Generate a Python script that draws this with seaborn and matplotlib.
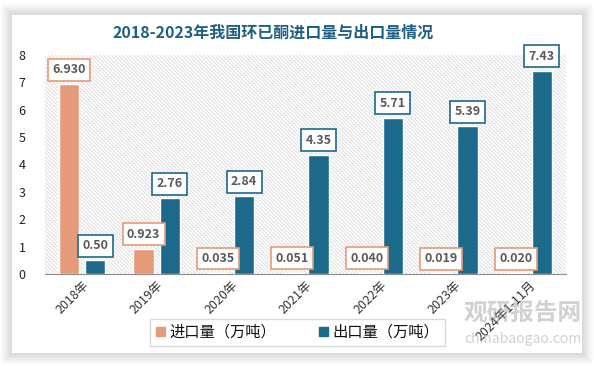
import pandas as pd
import matplotlib
matplotlib.use("Agg")
import matplotlib.pyplot as plt
import matplotlib.patches as mpatches
import seaborn as sns

years = ["2018年", "2019年", "2020年", "2021年", "2022年", "2023年", "2024年1-11月"]
import_vals = [6.930, 0.923, 0.035, 0.051, 0.040, 0.019, 0.020]
export_vals = [0.50, 2.76, 2.84, 4.35, 5.71, 5.39, 7.43]
import_text = ["6.930", "0.923", "0.035", "0.051", "0.040", "0.019", "0.020"]
export_text = ["0.50", "2.76", "2.84", "4.35", "5.71", "5.39", "7.43"]
series = ["进口量（万吨）", "出口量（万吨）"]
yticks = [0, 1, 2, 3, 4, 5, 6, 7, 8]

orange = "#E59B7A"
blue = "#1B6A8C"

df = pd.DataFrame({
    "year": years * 2,
    "value": import_vals + export_vals,
    "series": [series[0]] * len(years) + [series[1]] * len(years),
})

sns.set_style("white")
plt.rcParams["font.family"] = ["Noto Sans CJK SC", "DejaVu Sans"]
plt.rcParams["hatch.linewidth"] = 0.5

fig = plt.figure(figsize=(5.94, 3.66), dpi=100, facecolor="white")

# card with soft shadow
for i in range(6):
    d = (6 - i) * 0.003
    fig.patches.append(mpatches.Rectangle((0.02 - d, 0.035 - d * 1.6), 0.96 + 2 * d, 0.925 + 3.2 * d,
                                          transform=fig.transFigure, facecolor="#000000",
                                          alpha=0.025, edgecolor="none", zorder=-5))
fig.patches.append(mpatches.Rectangle((0.02, 0.035), 0.96, 0.925, transform=fig.transFigure,
                                      facecolor="white", edgecolor="none", zorder=-4))

ax = fig.add_axes([0.0758, 0.2514, 0.877, 0.5983])
ax.set_facecolor("none")
ax.add_patch(mpatches.Rectangle((0, 0), 1, 1, transform=ax.transAxes, facecolor="white",
                                edgecolor="#d2d2d2", hatch="\\" * 9, linewidth=0, zorder=0))

sns.barplot(df, x="year", y="value", hue="series", palette=[orange, blue], saturation=1,
            width=0.7, gap=0.22, ax=ax, legend=True, zorder=3)

for bars, texts, col in zip(ax.containers, [import_text, export_text], [orange, blue]):
    for bar, t in zip(bars, texts):
        ax.annotate(t, (bar.get_x() + bar.get_width() / 2, bar.get_height()),
                    xytext=(0, 10.5), textcoords="offset points", ha="center", va="center",
                    fontsize=9, fontweight="bold", color="#595959", zorder=5,
                    bbox=dict(boxstyle="square,pad=0.35", facecolor="white", edgecolor=col, linewidth=1.2))

ax.set_xlim(-0.5, 6.5)
ax.set_ylim(0, 8)
ax.set_yticks(yticks)
ax.set_xlabel("")
ax.set_ylabel("")
for s in ["top", "right", "left"]:
    ax.spines[s].set_visible(False)
ax.spines["bottom"].set_color("#8c8c8c")
ax.tick_params(axis="y", length=0, labelsize=9, pad=14, colors="#222222")
ax.tick_params(axis="x", length=0, labelsize=9, colors="#333333")
for lab in ax.get_xticklabels():
    lab.set_rotation(45)
    lab.set_ha("right")
    lab.set_rotation_mode("anchor")

ax.legend_.remove()
handles = [mpatches.Patch(color=orange), mpatches.Patch(color=blue)]
fig.legend(handles, series, loc="center", bbox_to_anchor=(0.501, 0.0915), ncol=2, frameon=True,
           fontsize=11, handlelength=0.6, handleheight=0.6, handletextpad=0.3, columnspacing=2.8,
           fancybox=False, edgecolor="#d0d0d0", borderpad=0.35, labelcolor="#111111")

fig.text(0.46, 0.91, "2018-2023年我国环已酮进口量与出口量情况", ha="center", va="center",
         fontsize=11.5, fontweight="bold", color="#1F5F80")

# watermark
fig.text(0.88, 0.145, "观研报告网", ha="center", va="center", fontsize=17, fontweight="bold",
         color="#9a9a9a", alpha=0.45, zorder=10)
fig.text(0.88, 0.075, "chinabaogao.com", ha="center", va="center", fontsize=10,
         color="#9a9a9a", alpha=0.45, zorder=10)

fig.savefig("out.png", dpi=100)
